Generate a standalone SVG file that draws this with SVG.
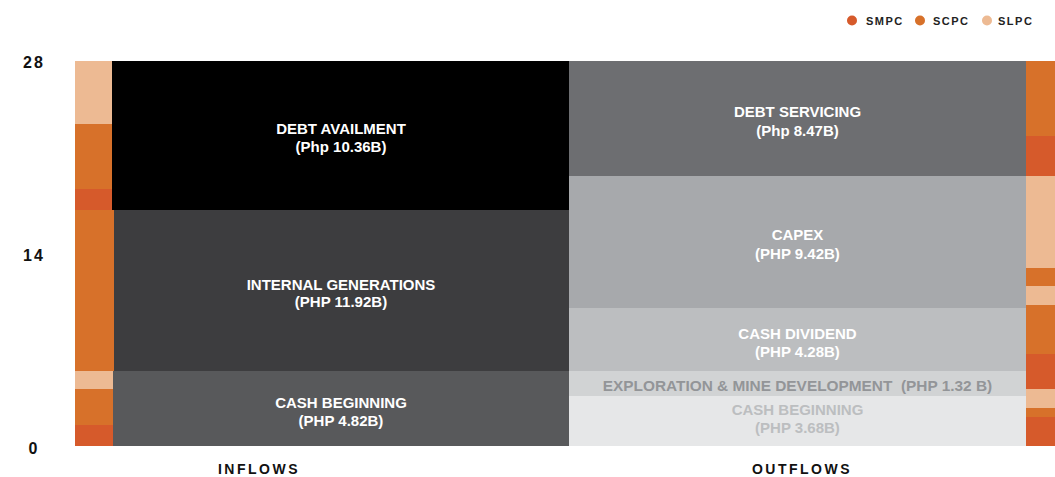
<svg xmlns="http://www.w3.org/2000/svg" width="1055" height="477" viewBox="0 0 1055 477">
<style>
.lbl{font-family:"Liberation Sans",Arial,sans-serif;font-weight:bold;font-size:15px;fill:#ffffff;text-anchor:middle}
.ax{font-family:"Liberation Sans",Arial,sans-serif;font-weight:bold;font-size:16px;fill:#111;text-anchor:middle;letter-spacing:2px}
.leg{font-family:"Liberation Sans",Arial,sans-serif;font-weight:bold;font-size:11px;fill:#222;letter-spacing:1.5px}
.cat{font-family:"Liberation Sans",Arial,sans-serif;font-weight:bold;font-size:14px;fill:#111;text-anchor:middle;letter-spacing:2.5px}
.smpc{fill:#d65a2b}.scpc{fill:#d7712a}.slpc{fill:#edba93}
</style>
<rect width="1055" height="477" fill="#ffffff"/>
<g id="legend">
<circle cx="852" cy="20.5" r="5" class="smpc"/><text class="leg" x="866" y="24.5">SMPC</text>
<circle cx="920" cy="20.5" r="5" class="scpc"/><text class="leg" x="933" y="24.5">SCPC</text>
<circle cx="987" cy="20.5" r="5" class="slpc"/><text class="leg" x="998" y="24.5">SLPC</text>
</g>
<g id="axis">
<text class="ax" x="34" y="68">28</text>
<text class="ax" x="34" y="261">14</text>
<text class="ax" x="34" y="454">0</text>
</g>
<g id="inflow-bar">
<rect x="75" y="61" width="38" height="63" class="slpc"/>
<rect x="75" y="124" width="38" height="65" class="scpc"/>
<rect x="75" y="189" width="38" height="21" class="smpc"/>
<rect x="75" y="210" width="39" height="161" class="scpc"/>
<rect x="75" y="371" width="38" height="18" class="slpc"/>
<rect x="75" y="389" width="38" height="36" class="scpc"/>
<rect x="75" y="425" width="38" height="21" class="smpc"/>
</g>
<g id="debt-availment">
<rect x="112" y="61" width="457" height="149" fill="#000000"/>
<text class="lbl" x="341" y="133.5">DEBT AVAILMENT</text>
<text class="lbl" x="341" y="151.5">(Php 10.36B)</text>
</g>
<g id="internal-generations">
<rect x="114" y="210" width="455" height="161" fill="#3d3d3f"/>
<text class="lbl" x="341" y="289.5">INTERNAL GENERATIONS</text>
<text class="lbl" x="341" y="306.5">(PHP 11.92B)</text>
</g>
<g id="cash-beginning-in">
<rect x="113" y="371" width="456" height="75" fill="#58595b"/>
<text class="lbl" x="341" y="407.5">CASH BEGINNING</text>
<text class="lbl" x="341" y="425.5">(PHP 4.82B)</text>
</g>
<g id="debt-servicing">
<rect x="569" y="61" width="457" height="115" fill="#6d6e71"/>
<text class="lbl" x="797.5" y="116.5">DEBT SERVICING</text>
<text class="lbl" x="797.5" y="135.5">(Php 8.47B)</text>
</g>
<g id="capex">
<rect x="569" y="176" width="457" height="132" fill="#a7a9ac"/>
<text class="lbl" x="797.5" y="239.5">CAPEX</text>
<text class="lbl" x="797.5" y="258.5">(PHP 9.42B)</text>
</g>
<g id="cash-dividend">
<rect x="569" y="308" width="457" height="63" fill="#bcbec0"/>
<text class="lbl" x="797.5" y="338.5">CASH DIVIDEND</text>
<text class="lbl" x="797.5" y="356.5">(PHP 4.28B)</text>
</g>
<g id="exploration">
<rect x="569" y="371" width="457" height="25" fill="#d1d3d4"/>
<text class="lbl" x="797.5" y="391" style="fill:#939598;font-size:15.4px" xml:space="preserve">EXPLORATION &amp; MINE DEVELOPMENT  (PHP 1.32 B)</text>
</g>
<g id="cash-beginning-out">
<rect x="569" y="396" width="457" height="50" fill="#e6e7e8"/>
<text class="lbl" x="797.5" y="414.5" style="fill:#bcbec0">CASH BEGINNING</text>
<text class="lbl" x="797.5" y="432.5" style="fill:#bcbec0">(PHP 3.68B)</text>
</g>
<g id="outflow-bar">
<rect x="1026" y="61" width="29" height="75" class="scpc"/>
<rect x="1026" y="136" width="29" height="40" class="smpc"/>
<rect x="1026" y="176" width="29" height="92" class="slpc"/>
<rect x="1026" y="268" width="29" height="18" class="scpc"/>
<rect x="1026" y="286" width="29" height="19" class="slpc"/>
<rect x="1026" y="305" width="29" height="49" class="scpc"/>
<rect x="1026" y="354" width="29" height="35" class="smpc"/>
<rect x="1026" y="389" width="29" height="19" class="slpc"/>
<rect x="1026" y="408" width="29" height="9" class="scpc"/>
<rect x="1026" y="417" width="29" height="29" class="smpc"/>
</g>
<g id="categories">
<text class="cat" x="259" y="474">INFLOWS</text>
<text class="cat" x="802" y="474">OUTFLOWS</text>
</g>
<g id="connectors"></g>
</svg>
